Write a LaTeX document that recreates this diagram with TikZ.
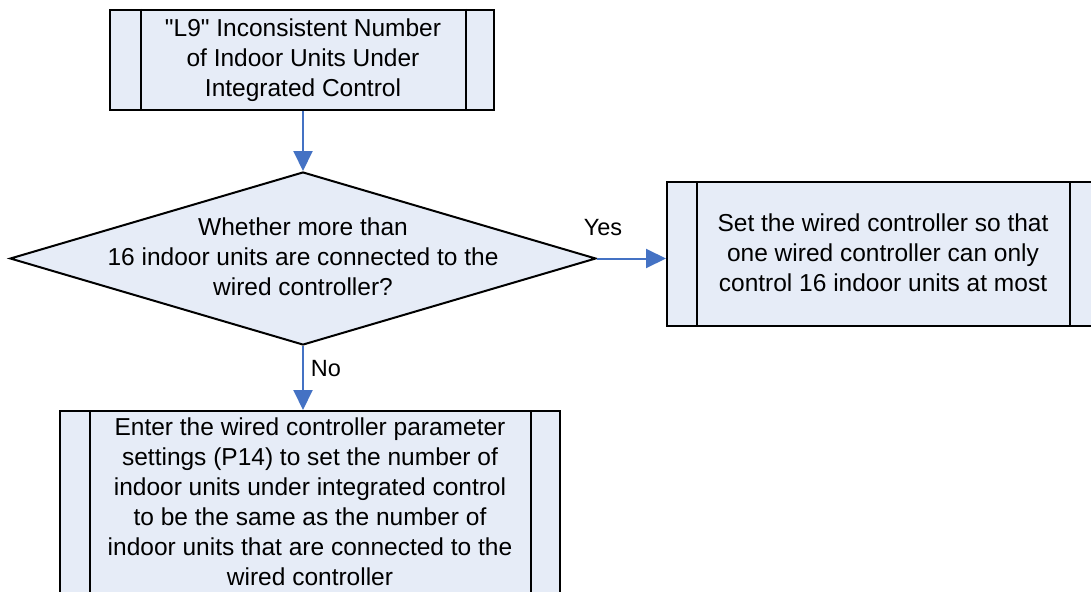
\documentclass[tikz,border=0pt]{standalone}
\usepackage{fontspec}
\setmainfont{Liberation Sans}
\newfontfamily\qfont{Liberation Sans}[Ligatures=TeXOff]
\usetikzlibrary{arrows.meta,shapes.geometric}
\definecolor{boxfill}{HTML}{E6ECF7}
\definecolor{arrowblue}{HTML}{4472C4}
\begin{document}
\begin{tikzpicture}[x=1pt,y=-1pt,
  proc/.style={draw=black,line width=2pt,fill=boxfill,rectangle,inner sep=0pt},
  dia/.style={draw=black,line width=2pt,fill=boxfill,diamond,inner sep=0pt,shape aspect=3.38},
  txt/.style={align=center,font=\fontsize{24.5}{30}\selectfont,inner sep=0pt},
  lbl/.style={font=\fontsize{23.5}{28}\selectfont,inner sep=0pt},
  flow/.style={draw=arrowblue,line width=2pt,-{Triangle[width=19pt,length=20pt]}}]
\useasboundingbox (0,0) rectangle (1091,591);
\clip (0,0) rectangle (1091,591);
\fill[white] (0,0) rectangle (1091,591);
% top box
\node[proc,minimum width=384pt,minimum height=100pt] (top) at (302,60) {};
\draw[line width=2pt] ([xshift=32pt]top.north west) -- ([xshift=32pt]top.south west);
\draw[line width=2pt] ([xshift=-29pt]top.north east) -- ([xshift=-29pt]top.south east);
\node[txt] (toptxt) at (303,60) {{\qfont"}L9{\qfont"} Inconsistent Number\\of Indoor Units Under\\Integrated Control};
% diamond
\node[dia,minimum width=586pt,minimum height=173pt] (d) at (303,258.5) {};
\node[txt] (dtxt) at (303,257) {Whether more than\\16 indoor units are connected to the\\wired controller?};
% right box
\node[proc,minimum width=431pt,minimum height=144pt] (r) at (882.5,254) {};
\draw[line width=2pt] ([xshift=31pt]r.north west) -- ([xshift=31pt]r.south west);
\draw[line width=2pt] ([xshift=-29pt]r.north east) -- ([xshift=-29pt]r.south east);
\node[txt] (rtxt) at (883,253) {Set the wired controller so that\\one wired controller can only\\control 16 indoor units at most};
% bottom box
\node[proc,minimum width=500pt,minimum height=189pt] (b) at (310,505.5) {};
\draw[line width=2pt] ([xshift=31pt]b.north west) -- ([xshift=31pt]b.south west);
\draw[line width=2pt] ([xshift=-30pt]b.north east) -- ([xshift=-30pt]b.south east);
\node[txt] (btxt) at (310,502) {Enter the wired controller parameter\\settings (P14) to set the number of\\indoor units under integrated control\\to be the same as the number of\\indoor units that are connected to the\\wired controller};
% connectors
\draw[flow] (top.south -| d.north) -- (d.north);
\draw[flow] (d.east) -- (d.east -| r.west);
\draw[flow] (d.south) -- (d.south |- b.north);
\node[lbl] (yes) at (603,228) {Yes};
\node[lbl] (no) at (326,369) {No};
\end{tikzpicture}
\end{document}
